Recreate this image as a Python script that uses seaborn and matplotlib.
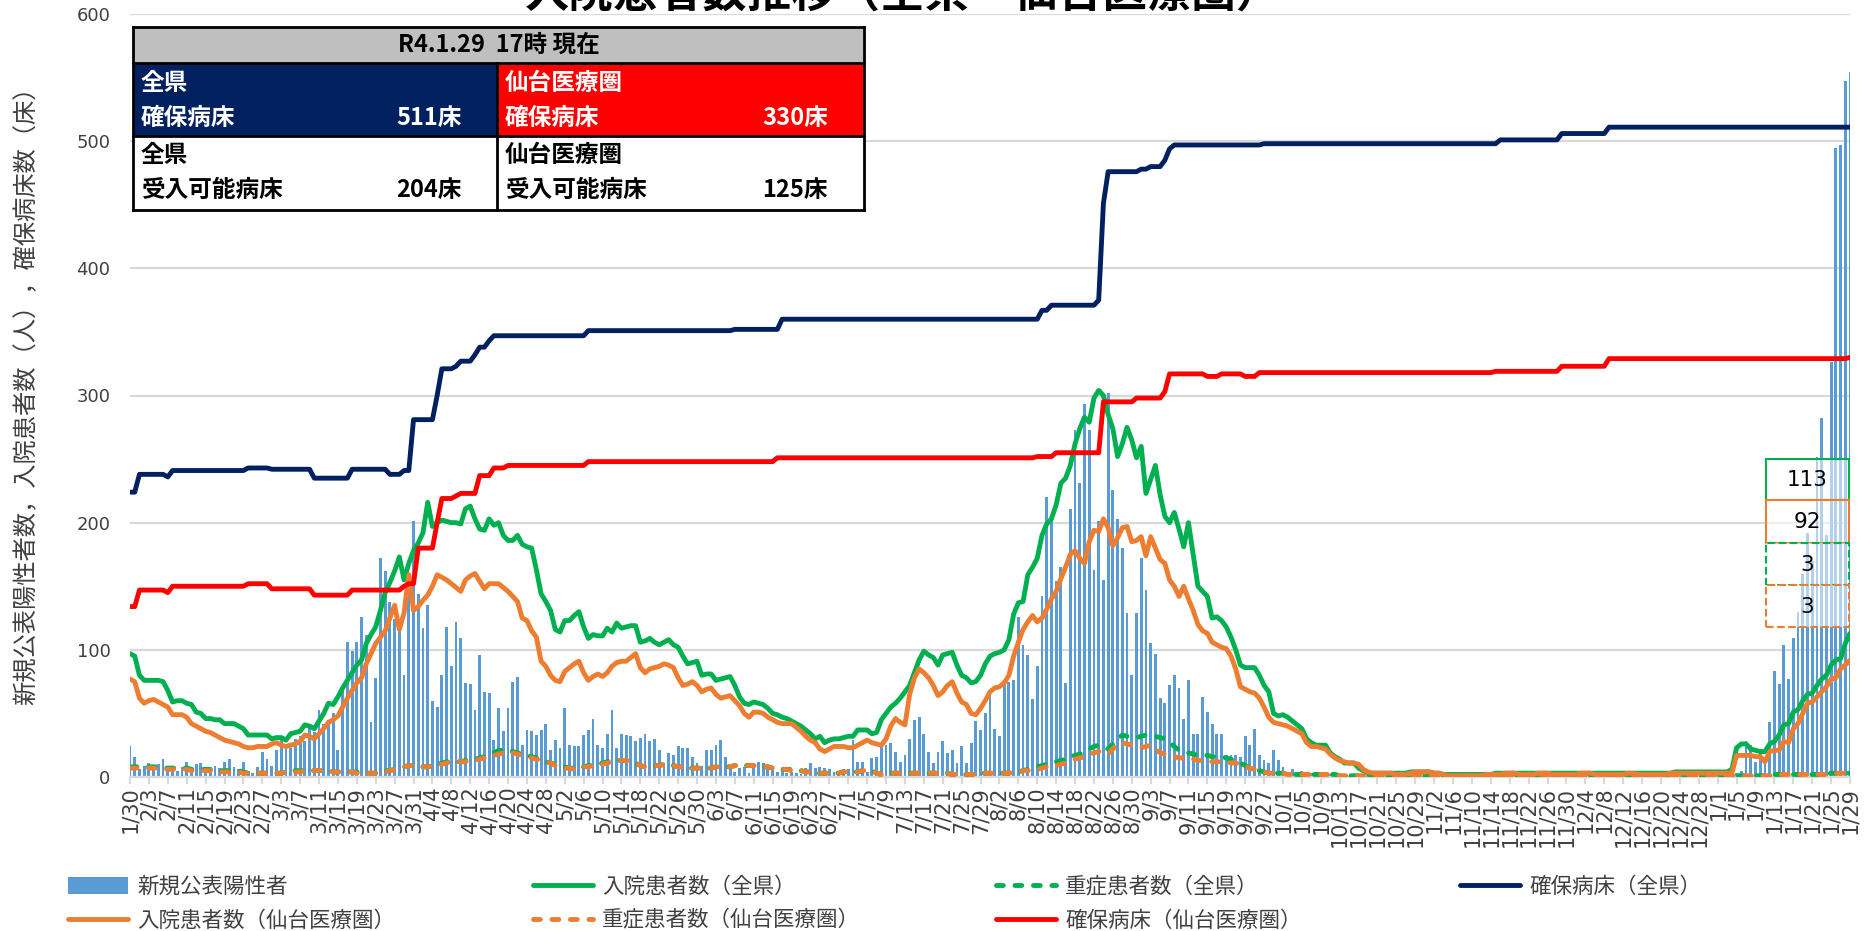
import numpy as np
import pandas as pd
import matplotlib
matplotlib.use("Agg")
import matplotlib.pyplot as plt
import seaborn as sns
from matplotlib.patches import Rectangle
from matplotlib.lines import Line2D

# ---------------- data ----------------
dates = pd.date_range("2021-01-30", "2022-01-29", freq="D")
date_labels = [f"{d.month}/{d.day}" for d in dates]

new_positive = [
    24, 16, 6, 9, 11, 6, 10, 14, 8, 9,
    5, 8, 12, 6, 10, 11, 6, 4, 9, 7,
    12, 14, 8, 6, 12, 5, 3, 8, 20, 14,
    9, 21, 29, 26, 23, 30, 32, 28, 41, 35,
    53, 42, 45, 50, 21, 70, 106, 99, 106, 126,
    112, 43, 78, 172, 162, 138, 124, 117, 80, 160,
    201, 144, 117, 135, 60, 55, 80, 118, 87, 122,
    109, 74, 73, 53, 96, 67, 66, 29, 54, 36,
    54, 75, 79, 25, 37, 36, 33, 37, 42, 21,
    29, 23, 54, 25, 24, 24, 33, 37, 46, 25,
    23, 34, 53, 23, 34, 33, 32, 28, 31, 34,
    28, 30, 21, 11, 19, 17, 24, 23, 23, 16,
    11, 9, 21, 21, 25, 29, 16, 7, 4, 7,
    8, 3, 7, 12, 11, 9, 8, 4, 6, 3,
    4, 3, 2, 7, 11, 7, 8, 7, 6, 4,
    3, 6, 6, 29, 12, 12, 4, 15, 16, 25,
    25, 27, 20, 12, 17, 30, 45, 47, 34, 20,
    11, 20, 28, 19, 21, 11, 24, 11, 27, 44,
    37, 50, 65, 38, 32, 72, 75, 76, 126, 104,
    96, 61, 87, 142, 220, 202, 154, 165, 74, 211,
    273, 231, 293, 273, 163, 201, 155, 302, 226, 203,
    180, 129, 80, 129, 172, 147, 105, 97, 62, 58,
    72, 80, 70, 46, 76, 34, 34, 63, 51, 42,
    34, 34, 17, 17, 17, 16, 32, 25, 38, 17,
    13, 11, 21, 13, 8, 4, 6, 3, 5, 2,
    3, 2, 4, 1, 2, 3, 1, 2, 1, 0,
    2, 1, 1, 0, 3, 1, 0, 1, 2, 0,
    1, 0, 1, 0, 1, 0, 1, 0, 0, 1,
    0, 0, 0, 1, 0, 0, 0, 1, 0, 0,
    0, 1, 0, 0, 0, 1, 0, 0, 0, 0,
    1, 0, 0, 0, 0, 0, 0, 1, 0, 0,
    0, 0, 1, 0, 0, 0, 1, 0, 0, 0,
    0, 1, 0, 1, 0, 0, 0, 1, 0, 1,
    2, 1, 0, 1, 2, 1, 2, 1, 3, 2,
    3, 5, 28, 25, 12, 20, 10, 43, 83, 73,
    104, 77, 109, 130, 160, 192, 170, 252, 282, 190,
    326, 495, 497, 547, 554,
]

hosp_all = [
    97, 95, 80, 76, 76, 76, 76, 75, 68, 59,
    60, 60, 58, 57, 51, 50, 46, 46, 45, 45,
    42, 42, 42, 40, 38, 33, 33, 33, 33, 33,
    30, 31, 31, 29, 34, 35, 36, 41, 40, 38,
    44, 50, 58, 57, 63, 70, 76, 82, 88, 92,
    105, 112, 118, 131, 145, 153, 162, 173, 155, 168,
    178, 184, 192, 216, 197, 200, 202, 201, 200, 200,
    199, 211, 213, 203, 195, 194, 203, 198, 200, 190,
    186, 186, 190, 183, 181, 180, 163, 144, 138, 131,
    116, 114, 123, 123, 127, 130, 118, 109, 112, 111,
    111, 117, 114, 121, 117, 118, 119, 119, 106, 107,
    109, 106, 104, 106, 108, 104, 102, 95, 89, 90,
    91, 80, 81, 81, 76, 77, 78, 79, 72, 63,
    58, 57, 59, 58, 57, 54, 50, 49, 47, 46,
    44, 42, 40, 37, 34, 30, 32, 27, 29, 30,
    30, 31, 32, 32, 37, 37, 37, 34, 35, 45,
    50, 55, 58, 62, 67, 72, 82, 92, 99, 96,
    94, 88, 96, 97, 98, 88, 80, 78, 74, 75,
    80, 89, 95, 97, 98, 100, 108, 128, 137, 138,
    159, 165, 172, 190, 199, 203, 214, 231, 235, 245,
    262, 274, 283, 279, 298, 304, 300, 285, 274, 252,
    262, 275, 265, 251, 260, 223, 234, 245, 222, 205,
    200, 208, 195, 181, 200, 175, 150, 146, 142, 125,
    126, 123, 118, 110, 100, 88, 86, 86, 86, 80,
    72, 67, 50, 48, 49, 47, 44, 41, 38, 30,
    27, 25, 25, 25, 19, 16, 14, 11, 11, 11,
    7, 5, 3, 3, 3, 3, 3, 3, 3, 3,
    3, 4, 4, 4, 4, 4, 3, 3, 2, 2,
    2, 2, 2, 2, 2, 2, 2, 2, 2, 3,
    3, 3, 3, 3, 3, 3, 3, 3, 3, 3,
    3, 3, 3, 3, 3, 3, 3, 3, 3, 3,
    3, 3, 3, 3, 3, 3, 3, 3, 3, 3,
    3, 3, 3, 3, 3, 3, 3, 4, 4, 4,
    4, 4, 4, 4, 4, 4, 4, 4, 4, 6,
    23, 26, 26, 22, 21, 20, 20, 26, 28, 33,
    41, 42, 51, 53, 60, 65, 66, 72, 77, 80,
    88, 92, 93, 105, 113,
]

hosp_sendai = [
    77, 75, 62, 58, 60, 61, 59, 57, 55, 49,
    49, 49, 47, 42, 40, 38, 36, 35, 33, 31,
    29, 28, 27, 26, 24, 23, 23, 24, 24, 24,
    26, 27, 25, 24, 25, 26, 28, 33, 32, 30,
    34, 38, 43, 45, 48, 55, 62, 68, 74, 78,
    89, 97, 105, 110, 115, 125, 135, 116, 129, 159,
    131, 134, 139, 143, 150, 159, 157, 155, 152, 149,
    146, 155, 158, 160, 154, 148, 152, 152, 152, 149,
    146, 142, 138, 125, 123, 115, 110, 91, 87, 80,
    76, 75, 83, 86, 89, 91, 82, 76, 79, 81,
    79, 82, 87, 90, 91, 91, 94, 97, 86, 82,
    85, 86, 87, 89, 88, 86, 78, 72, 73, 75,
    72, 67, 69, 70, 65, 62, 63, 64, 60, 56,
    50, 47, 51, 51, 50, 47, 45, 43, 42, 42,
    42, 39, 36, 32, 29, 27, 22, 20, 22, 24,
    24, 24, 23, 23, 25, 27, 29, 27, 26, 25,
    30, 40, 46, 43, 41, 65, 78, 85, 82, 78,
    72, 64, 67, 72, 75, 66, 59, 57, 50, 49,
    54, 60, 67, 70, 71, 74, 80, 95, 106, 116,
    122, 127, 122, 125, 132, 140, 146, 156, 165, 175,
    178, 172, 168, 185, 194, 193, 203, 196, 182, 188,
    196, 197, 185, 186, 189, 174, 189, 180, 171, 168,
    155, 150, 142, 150, 140, 131, 120, 115, 113, 106,
    104, 102, 101, 95, 85, 71, 69, 67, 66, 62,
    55, 47, 43, 42, 41, 40, 38, 36, 34, 27,
    24, 24, 23, 22, 18, 15, 13, 12, 11, 11,
    10, 6, 4, 3, 3, 3, 3, 3, 2, 2,
    2, 3, 4, 4, 4, 4, 3, 3, 2, 1,
    1, 1, 1, 1, 1, 1, 1, 2, 2, 2,
    2, 3, 3, 3, 2, 2, 2, 2, 3, 3,
    3, 2, 2, 2, 2, 2, 2, 3, 3, 3,
    2, 2, 2, 2, 2, 2, 2, 3, 3, 2,
    2, 2, 2, 2, 2, 2, 3, 3, 3, 3,
    3, 3, 3, 3, 3, 3, 3, 3, 3, 3,
    17, 17, 17, 17, 16, 16, 12, 20, 21, 21,
    28, 27, 38, 42, 50, 58, 59, 63, 67, 71,
    77, 78, 85, 88, 92,
]

severe_all = [
    8, 8, 8, 8, 8, 8, 8, 7, 7, 7,
    7, 7, 7, 6, 6, 6, 6, 6, 5, 5,
    5, 5, 5, 5, 4, 3, 3, 3, 3, 3,
    3, 3, 3, 4, 5, 5, 5, 5, 5, 5,
    5, 5, 5, 4, 4, 4, 4, 4, 4, 3,
    3, 3, 3, 4, 5, 5, 6, 7, 8, 9,
    9, 9, 8, 8, 9, 10, 11, 12, 12, 12,
    12, 13, 13, 14, 15, 16, 17, 19, 21, 21,
    21, 20, 19, 18, 17, 16, 15, 13, 12, 11,
    10, 9, 8, 7, 7, 7, 8, 9, 9, 10,
    11, 12, 13, 13, 13, 13, 12, 11, 9, 8,
    8, 9, 9, 10, 10, 9, 8, 8, 7, 7,
    7, 7, 7, 7, 8, 8, 8, 8, 9, 9,
    9, 9, 9, 9, 8, 8, 7, 7, 6, 6,
    6, 5, 5, 4, 4, 3, 3, 3, 3, 3,
    3, 4, 4, 4, 4, 5, 5, 5, 3, 2,
    2, 3, 3, 3, 3, 3, 3, 3, 3, 3,
    3, 3, 3, 3, 2, 2, 2, 2, 2, 2,
    3, 3, 3, 3, 3, 3, 3, 4, 4, 5,
    6, 7, 8, 9, 10, 11, 12, 13, 14, 16,
    17, 18, 20, 22, 24, 25, 23, 22, 26, 30,
    33, 32, 31, 31, 32, 33, 33, 32, 31, 30,
    27, 24, 21, 20, 19, 18, 17, 17, 17, 16,
    16, 16, 15, 14, 12, 11, 9, 7, 6, 5,
    4, 3, 3, 3, 3, 2, 2, 2, 2, 2,
    2, 2, 2, 2, 2, 2, 1, 1, 1, 1,
    1, 1, 1, 1, 1, 1, 1, 1, 1, 1,
    1, 1, 1, 1, 1, 1, 1, 1, 1, 0,
    0, 0, 1, 1, 1, 1, 1, 1, 1, 1,
    1, 1, 1, 1, 1, 1, 0, 0, 1, 1,
    1, 1, 1, 1, 1, 1, 1, 1, 1, 1,
    1, 1, 1, 1, 1, 1, 1, 1, 1, 1,
    1, 1, 1, 1, 1, 1, 1, 1, 1, 1,
    1, 1, 1, 1, 1, 1, 1, 1, 1, 1,
    1, 1, 1, 1, 1, 1, 1, 1, 2, 2,
    2, 2, 2, 2, 2, 2, 2, 2, 2, 2,
    3, 3, 3, 3, 3,
]

severe_sendai = [
    7, 7, 7, 7, 7, 7, 7, 6, 6, 6,
    6, 6, 6, 5, 5, 5, 5, 5, 5, 4,
    4, 4, 4, 4, 3, 3, 3, 3, 3, 3,
    3, 3, 3, 4, 4, 4, 4, 5, 5, 5,
    5, 5, 5, 4, 4, 4, 4, 4, 3, 3,
    3, 3, 3, 4, 4, 5, 6, 7, 8, 9,
    9, 9, 8, 8, 9, 9, 10, 11, 12, 12,
    12, 12, 13, 13, 14, 15, 16, 17, 18, 19,
    20, 19, 18, 17, 16, 15, 14, 13, 12, 11,
    9, 8, 7, 7, 6, 7, 8, 8, 9, 10,
    10, 11, 12, 13, 13, 13, 12, 11, 9, 8,
    8, 9, 9, 10, 10, 9, 8, 8, 7, 7,
    7, 7, 7, 7, 8, 8, 8, 8, 9, 9,
    9, 9, 9, 9, 8, 8, 7, 7, 6, 6,
    5, 5, 5, 4, 4, 3, 3, 3, 3, 3,
    3, 4, 4, 4, 4, 5, 5, 5, 3, 2,
    2, 3, 3, 3, 3, 3, 3, 3, 3, 3,
    3, 3, 3, 3, 2, 2, 2, 2, 2, 2,
    3, 3, 3, 3, 3, 3, 3, 4, 4, 5,
    5, 6, 6, 7, 8, 8, 9, 10, 11, 13,
    14, 15, 16, 18, 19, 20, 19, 18, 22, 26,
    27, 26, 25, 24, 23, 24, 25, 22, 19, 18,
    17, 16, 15, 15, 14, 14, 13, 13, 13, 12,
    12, 12, 12, 11, 11, 10, 8, 7, 6, 5,
    4, 3, 3, 3, 3, 2, 2, 2, 2, 2,
    2, 2, 2, 2, 2, 2, 1, 1, 1, 1,
    1, 1, 1, 1, 1, 1, 1, 1, 1, 1,
    1, 1, 1, 1, 1, 1, 1, 1, 1, 0,
    0, 0, 1, 1, 1, 1, 1, 1, 1, 1,
    1, 1, 1, 1, 1, 1, 0, 0, 1, 1,
    1, 1, 1, 1, 1, 1, 1, 1, 1, 1,
    1, 1, 1, 1, 1, 1, 1, 1, 1, 1,
    1, 1, 1, 1, 1, 1, 1, 1, 1, 1,
    1, 1, 1, 1, 1, 1, 1, 1, 1, 1,
    1, 1, 1, 1, 1, 1, 1, 1, 2, 2,
    2, 2, 2, 2, 2, 2, 2, 2, 2, 2,
    3, 3, 3, 3, 3,
]

# secured beds: value and number of consecutive days at that value
beds_all_values = [224, 238, 236, 241, 243, 242, 235, 242, 238, 241, 281, 300, 321, 323,
                   327, 332, 338, 343, 347, 351, 352, 360, 367, 371, 375, 451, 476, 478,
                   480, 485, 494, 497, 498, 501, 506, 511]
beds_all_days = [2, 6, 1, 16, 5, 9, 8, 8, 3, 2, 5, 1, 3, 1,
                 3, 1, 2, 1, 20, 31, 10, 55, 2, 10, 1, 1, 7, 2,
                 3, 1, 1, 19, 50, 13, 10, 52]
beds_sendai_values = [134, 147, 145, 150, 152, 148, 143, 147, 150, 152, 180, 200, 219, 221,
                      223, 237, 243, 245, 248, 251, 252, 255, 295, 298, 303, 317, 315, 317,
                      315, 318, 319, 323, 329, 330]
beds_sendai_days = [2, 6, 1, 16, 5, 9, 8, 11, 1, 2, 4, 1, 3, 1,
                    4, 3, 3, 17, 40, 55, 4, 10, 7, 6, 1, 8, 3, 5,
                    3, 50, 14, 10, 51, 1]

title = "入院患者数推移（全県・仙台医療圏）"
ylabel = "新規公表陽性者数，入院患者数（人），確保病床数（床）"
legend_labels = ["新規公表陽性者", "入院患者数（全県）", "重症患者数（全県）", "確保病床（全県）",
                 "入院患者数（仙台医療圏）", "重症患者数（仙台医療圏）", "確保病床（仙台医療圏）"]
table_header = "R4.1.29  17時 現在"
table_region = ["全県", "仙台医療圏"]
table_secured = ["511床", "330床"]
table_available = ["204床", "125床"]
last_labels = ["113", "92", "3", "3"]

# ---------------- build ----------------
n = len(dates)
for nm, arr in [("new_positive", new_positive), ("hosp_all", hosp_all),
                ("hosp_sendai", hosp_sendai), ("severe_all", severe_all),
                ("severe_sendai", severe_sendai)]:
    if len(arr) != n:
        raise ValueError(f"{nm} has {len(arr)} values, expected {n}")
beds_all = np.repeat(beds_all_values, beds_all_days)
beds_sendai = np.repeat(beds_sendai_values, beds_sendai_days)
assert len(beds_all) == n and len(beds_sendai) == n, (len(beds_all), len(beds_sendai))

days = np.arange(n)
df = pd.DataFrame({"day": days, "new": new_positive, "hosp_all": hosp_all,
                   "hosp_sendai": hosp_sendai, "severe_all": severe_all,
                   "severe_sendai": severe_sendai, "beds_all": beds_all,
                   "beds_sendai": beds_sendai})

sns.set_theme(style="white")
JP = ["Noto Sans CJK JP", "DejaVu Sans"]
plt.rcParams["font.family"] = ["DejaVu Sans", "Noto Sans CJK JP"]

C_BAR = "#5b9bd5"
C_GREEN = "#00b050"
C_ORANGE = "#ed7d31"
C_NAVY = "#002060"
C_RED = "#ff0000"
C_GRID = "#d9d9d9"
C_TEXT = "#404040"

W, H = 1869, 931
fig = plt.figure(figsize=(W / 100, H / 100), dpi=100)
fig.patch.set_facecolor("white")


def fx(x):
    return x / W


def fy(y):
    return 1 - y / H


ax = fig.add_axes([fx(130), 154 / H, 1720 / W, 763 / H])

sns.barplot(data=df, x="day", y="new", native_scale=True, color=C_BAR, saturation=1,
            width=0.6, errorbar=None, linewidth=0, ax=ax, zorder=2)

LW = 3.5
dash = (0, (1.4, 2.4))
sns.lineplot(data=df, x="day", y="hosp_all", color=C_GREEN, linewidth=LW, ax=ax, zorder=3,
             solid_joinstyle="round", solid_capstyle="round")
sns.lineplot(data=df, x="day", y="severe_all", color=C_GREEN, linewidth=LW, ax=ax, zorder=4,
             linestyle=dash, dash_capstyle="round")
sns.lineplot(data=df, x="day", y="beds_all", color=C_NAVY, linewidth=LW, ax=ax, zorder=5,
             solid_joinstyle="round", solid_capstyle="round")
sns.lineplot(data=df, x="day", y="hosp_sendai", color=C_ORANGE, linewidth=LW, ax=ax, zorder=6,
             solid_joinstyle="round", solid_capstyle="round")
sns.lineplot(data=df, x="day", y="severe_sendai", color=C_ORANGE, linewidth=LW, ax=ax, zorder=7,
             linestyle=dash, dash_capstyle="round")
sns.lineplot(data=df, x="day", y="beds_sendai", color=C_RED, linewidth=LW, ax=ax, zorder=8,
             solid_joinstyle="round", solid_capstyle="round")

ax.set_xlim(0, n - 1)
ax.set_ylim(0, 600)
ax.set_yticks(range(0, 601, 100))
ax.set_xticks(days[::4])
ax.set_xticklabels(date_labels[::4], rotation=90, fontsize=15, color=C_TEXT)
ax.tick_params(axis="x", length=5, width=1.5, color=C_GRID, pad=2, direction="out", bottom=True)
ax.tick_params(axis="y", length=0, pad=14, labelsize=13, labelcolor=C_TEXT)
ax.set_xlabel("")
ax.set_ylabel("")
ax.yaxis.grid(True, color=C_GRID, linewidth=1.6)
ax.xaxis.grid(False)
ax.set_axisbelow(True)
for s in ["top", "right", "left"]:
    ax.spines[s].set_visible(False)
ax.spines["bottom"].set_color(C_GRID)
ax.spines["bottom"].set_linewidth(1.6)
if ax.get_legend() is not None:
    ax.get_legend().remove()

# title (partly cut at top like the reference)
fig.text(fx(903), fy(7), title, ha="center", va="baseline", fontsize=32,
         fontweight="bold", family=JP, color="black")
# y label
fig.text(fx(27), fy(390), ylabel, rotation=90, ha="center", va="center",
         fontsize=17.5, family=JP, color=C_TEXT)

# ---------------- table ----------------
TX0, TX1, TXM = 133, 864, 497
TY0, TY1, TY2, TY3 = 27, 63, 136, 210


def rect(x0, y0, x1, y1, **kw):
    r = Rectangle((fx(x0), fy(y1)), (x1 - x0) / W, (y1 - y0) / H,
                  transform=fig.transFigure, **kw)
    fig.add_artist(r)
    return r


def line(x0, y0, x1, y1, **kw):
    l = Line2D([fx(x0), fx(x1)], [fy(y0), fy(y1)], transform=fig.transFigure, **kw)
    fig.add_artist(l)


rect(TX0, TY0, TX1, TY1, facecolor="#bfbfbf", edgecolor="none", zorder=10)
rect(TX0, TY1, TXM, TY2, facecolor=C_NAVY, edgecolor="none", zorder=10)
rect(TXM, TY1, TX1, TY2, facecolor=C_RED, edgecolor="none", zorder=10)
rect(TX0, TY2, TX1, TY3, facecolor="white", edgecolor="none", zorder=10)
blk = dict(color="black", linewidth=2.0, zorder=11, solid_capstyle="projecting")
line(TX0, TY0, TX1, TY0, **blk)
line(TX0, TY3, TX1, TY3, **blk)
line(TX0, TY0, TX0, TY3, **blk)
line(TX1, TY0, TX1, TY3, **blk)
line(TX0, TY1, TX1, TY1, **blk)
line(TX0, TY2, TX1, TY2, **blk)
line(TXM, TY1, TXM, TY3, **blk)

tk = dict(fontweight="bold", family=JP, zorder=12, va="center")
fig.text(fx((TX0 + TX1) / 2), fy(45), table_header, ha="center", fontsize=17, color="black", **tk)
for i, (xl, xr) in enumerate([(141, 462), (505, 828)]):
    fig.text(fx(xl), fy(83), table_region[i], ha="left", fontsize=17, color="white", **tk)
    fig.text(fx(xl), fy(118), "確保病床", ha="left", fontsize=17, color="white", **tk)
    fig.text(fx(xr), fy(118), table_secured[i], ha="right", fontsize=17, color="white", **tk)
    fig.text(fx(xl), fy(155), table_region[i], ha="left", fontsize=17, color="black", **tk)
    fig.text(fx(xl), fy(190), "受入可能病床", ha="left", fontsize=17, color="black", **tk)
    fig.text(fx(xr), fy(190), table_available[i], ha="right", fontsize=17, color="black", **tk)

# ---------------- last value boxes ----------------
BX0, BX1 = 1766, 1849
box_rows = [(459, 500), (500, 543), (543, 585), (585, 627)]
box_styles = [(C_GREEN, "-"), (C_ORANGE, "-"), (C_GREEN, "--"), (C_ORANGE, "--")]
for (y0, y1), (c, ls), lab in zip(box_rows, box_styles, last_labels):
    rect(BX0, y0, BX1, y1, facecolor=(1, 1, 1, 0.55), edgecolor=c, linewidth=1.5,
         linestyle=ls, zorder=10)
    fig.text(fx((BX0 + BX1) / 2), fy((y0 + y1) / 2 + 1), lab, ha="center", va="center",
             fontsize=15.5, color="black", zorder=12)

# ---------------- legend ----------------
h_bar = Rectangle((0, 0), 1, 1, facecolor=C_BAR, edgecolor="none")
h_green = Line2D([], [], color=C_GREEN, linewidth=LW)
h_green_d = Line2D([], [], color=C_GREEN, linewidth=LW, linestyle=dash, dash_capstyle="round")
h_navy = Line2D([], [], color=C_NAVY, linewidth=LW)
h_orange = Line2D([], [], color=C_ORANGE, linewidth=LW)
h_orange_d = Line2D([], [], color=C_ORANGE, linewidth=LW, linestyle=dash, dash_capstyle="round")
h_red = Line2D([], [], color=C_RED, linewidth=LW)

columns = [([h_bar, h_orange], [legend_labels[0], legend_labels[4]], 68),
           ([h_green, h_orange_d], [legend_labels[1], legend_labels[5]], 533),
           ([h_green_d, h_red], [legend_labels[2], legend_labels[6]], 996),
           ([h_navy], [legend_labels[3]], 1460)]
for hs, ls, x in columns:
    fig.legend(hs, ls, loc="upper left", bbox_to_anchor=(fx(x), fy(876)),
               bbox_transform=fig.transFigure, frameon=False, borderpad=0,
               borderaxespad=0, handlelength=2.8, handleheight=0.8, handletextpad=0.42,
               labelspacing=0.55, prop={"family": JP, "size": 15.5}, labelcolor=C_TEXT)

fig.savefig("out.png", dpi=100, facecolor="white")
